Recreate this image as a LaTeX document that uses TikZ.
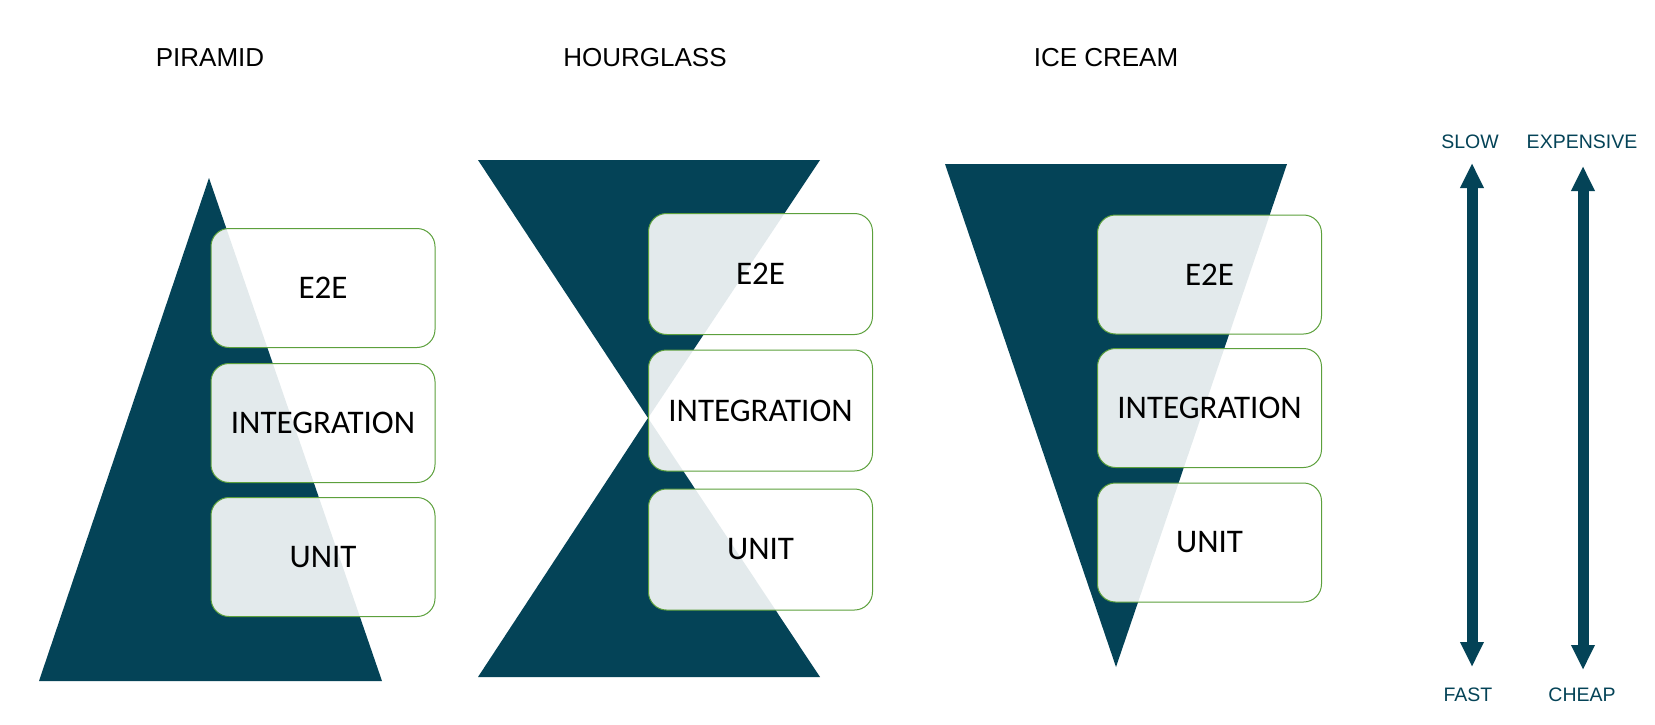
\documentclass[tikz,border=0pt]{standalone}
\usepackage{fontspec}
\setmainfont{Liberation Sans}
\newfontfamily\boxfont{Carlito}
\usetikzlibrary{arrows.meta}
\definecolor{tealc}{RGB}{4,67,87}
\definecolor{boxgreen}{RGB}{92,160,60}
\tikzset{
  darkshape/.style={fill=tealc, draw=none},
  layerbox/.style={draw=boxgreen, line width=1pt, fill=white, fill opacity=0.89, text opacity=1,
    rounded corners=18pt, minimum width=224pt, minimum height=119pt, inner sep=0pt,
    font=\boxfont\fontsize{33}{40}\selectfont, text=black},
  title/.style={font=\fontsize{26}{30}\selectfont, text=black, inner sep=0pt},
  axislabel/.style={font=\fontsize{19.5}{24}\selectfont, text=tealc, inner sep=0pt},
  bigarrow/.style={draw=tealc, line width=11pt,
    {Triangle[width=22pt,length=25pt]}-{Triangle[width=22pt,length=25pt]}}
}
\begin{document}
\begin{tikzpicture}[x=1pt,y=-1pt]
\useasboundingbox (0,0) rectangle (1655,725);
% titles
\node[title] (t1) at (210,58) {PIRAMID};
\node[title] (t2) at (645,58) {HOURGLASS};
\node[title] (t3) at (1106,58) {ICE CREAM};
% shapes
\fill[darkshape] (209,178) -- (39,681) -- (382,681) -- cycle;
\fill[darkshape] (478,160) -- (820,160) -- (648,418) -- cycle;
\fill[darkshape] (648,418) -- (478,677) -- (820,677) -- cycle;
\fill[darkshape] (945,164) -- (1287,164) -- (1116,667) -- cycle;
% pyramid boxes
\node[layerbox] (p1) at (323,288) {E2E};
\node[layerbox] (p2) at (323,423) {INTEGRATION};
\node[layerbox] (p3) at (323,557) {UNIT};
% hourglass boxes
\node[layerbox, minimum height=121pt] (h1) at (760.5,274) {E2E};
\node[layerbox, minimum height=121pt] (h2) at (760.5,410.5) {INTEGRATION};
\node[layerbox, minimum height=121pt] (h3) at (760.5,549.5) {UNIT};
% ice cream boxes
\node[layerbox] (c1) at (1209.5,274.5) {E2E};
\node[layerbox] (c2) at (1209.5,408) {INTEGRATION};
\node[layerbox] (c3) at (1209.5,542.5) {UNIT};
% axis labels
\node[axislabel] (slow) at (1470,142) {SLOW};
\node[axislabel] (fast) at (1468,695) {FAST};
\node[axislabel] (exp) at (1582,142) {EXPENSIVE};
\node[axislabel] (cheap) at (1582,695) {CHEAP};
\coordinate (s1) at (1472,163);
\coordinate (s2) at (1472,667);
\coordinate (e1) at (1583,166);
\coordinate (e2) at (1583,670);
\draw[bigarrow] (s1) -- (s2);
\draw[bigarrow] (e1) -- (e2);
\end{tikzpicture}
\end{document}
